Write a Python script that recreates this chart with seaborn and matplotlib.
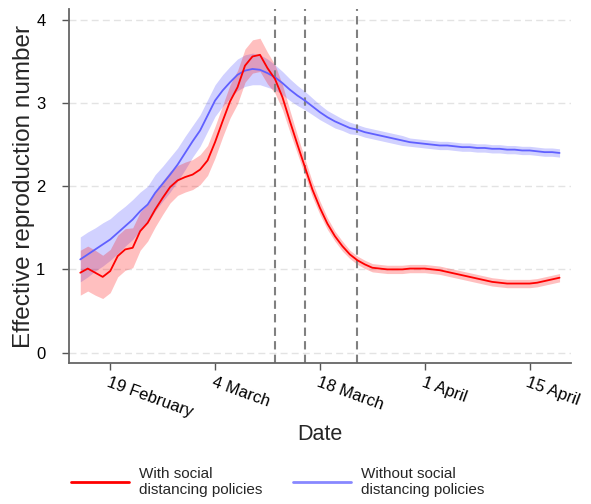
import numpy as np
import pandas as pd
import matplotlib
matplotlib.use("Agg")
import matplotlib.pyplot as plt
import matplotlib.dates as mdates
import seaborn as sns

# ---- data ----
start_date = "2020-02-15"
with_policy = [0.96, 1.01, 0.96, 0.91, 0.98, 1.16, 1.24, 1.26, 1.46, 1.56,
               1.72, 1.86, 1.99, 2.07, 2.11, 2.14, 2.20, 2.31, 2.53, 2.78,
               3.02, 3.19, 3.45, 3.56, 3.58, 3.42, 3.29, 3.07, 2.78, 2.50,
               2.23, 1.96, 1.74, 1.55, 1.40, 1.28, 1.18, 1.11, 1.06, 1.02,
               1.01, 1.00, 1.00, 1.00, 1.01, 1.01, 1.01, 1.00, 0.99, 0.97,
               0.95, 0.93, 0.91, 0.89, 0.87, 0.85, 0.84, 0.83, 0.83, 0.83,
               0.83, 0.84, 0.86, 0.88, 0.90]
with_halfwidth = [0.27, 0.27, 0.27, 0.26, 0.26, 0.25, 0.25, 0.24, 0.23, 0.22,
                  0.21, 0.20, 0.19, 0.18, 0.18, 0.18, 0.18, 0.18, 0.19, 0.19,
                  0.20, 0.20, 0.20, 0.20, 0.20, 0.19, 0.17, 0.15, 0.13, 0.11,
                  0.10, 0.09, 0.08, 0.07, 0.06, 0.06, 0.05, 0.05, 0.05, 0.05,
                  0.05, 0.05, 0.05, 0.05, 0.05, 0.05, 0.05, 0.05, 0.05, 0.05,
                  0.05, 0.05, 0.05, 0.05, 0.05, 0.05, 0.05, 0.05, 0.05, 0.05,
                  0.05, 0.05, 0.05, 0.05, 0.05]
without_policy = [1.12, 1.18, 1.24, 1.30, 1.36, 1.44, 1.52, 1.60, 1.70, 1.78,
                  1.92, 2.03, 2.14, 2.26, 2.40, 2.54, 2.67, 2.85, 3.03, 3.15,
                  3.25, 3.34, 3.39, 3.41, 3.40, 3.36, 3.31, 3.24, 3.16, 3.09,
                  3.03, 2.96, 2.89, 2.83, 2.78, 2.74, 2.70, 2.68, 2.65, 2.63,
                  2.61, 2.59, 2.57, 2.55, 2.53, 2.52, 2.51, 2.50, 2.49, 2.49,
                  2.48, 2.47, 2.47, 2.46, 2.46, 2.45, 2.45, 2.44, 2.44, 2.43,
                  2.43, 2.42, 2.41, 2.41, 2.40]
without_halfwidth = [0.27, 0.27, 0.26, 0.26, 0.25, 0.25, 0.24, 0.24, 0.23, 0.22,
                     0.22, 0.21, 0.21, 0.20, 0.20, 0.19, 0.19, 0.19, 0.19, 0.19,
                     0.19, 0.19, 0.19, 0.19, 0.18, 0.17, 0.15, 0.14, 0.13, 0.12,
                     0.11, 0.10, 0.09, 0.08, 0.08, 0.07, 0.07, 0.06, 0.06, 0.06,
                     0.06, 0.06, 0.06, 0.06, 0.05, 0.05, 0.05, 0.05, 0.05, 0.05,
                     0.05, 0.05, 0.05, 0.05, 0.05, 0.05, 0.05, 0.05, 0.05, 0.05,
                     0.05, 0.05, 0.05, 0.05, 0.05]
policy_dates = ["2020-03-12", "2020-03-16", "2020-03-23"]
tick_dates = ["2020-02-19", "2020-03-04", "2020-03-18", "2020-04-01", "2020-04-15"]
tick_labels = ["19 February", "4 March", "18 March", "1 April", "15 April"]
series_labels = ["With social\ndistancing policies", "Without social\ndistancing policies"]

dates = pd.date_range(start_date, periods=len(with_policy), freq="D")
df = pd.DataFrame({"date": dates, "with": with_policy, "without": without_policy,
                   "with_hw": with_halfwidth, "without_hw": without_halfwidth})

sns.set_theme(style="white")
plt.rcParams["font.family"] = ["Liberation Sans", "DejaVu Sans"]

fig = plt.figure(figsize=(5.91, 5.04), dpi=100)
ax = fig.add_axes([0.1168, 0.279, 0.849, 0.703])

red = "#ff0000"
blue = "#6060ff"

ax.fill_between(df["date"], df["without"] - df["without_hw"], df["without"] + df["without_hw"],
                color="#0000ff", alpha=0.18, linewidth=0)
ax.fill_between(df["date"], df["with"] - df["with_hw"], df["with"] + df["with_hw"],
                color="#ff0000", alpha=0.25, linewidth=0)
sns.lineplot(data=df, x="date", y="without", color=blue, linewidth=1.3, ax=ax,
             label=series_labels[1])
sns.lineplot(data=df, x="date", y="with", color=red, linewidth=1.3, ax=ax,
             label=series_labels[0])

for d in policy_dates:
    ax.axvline(pd.Timestamp(d), color="#808080", linestyle=(0, (4, 2.5)), linewidth=1.5, zorder=1)

ax.set_xlim(pd.Timestamp("2020-02-13 12:00"), pd.Timestamp("2020-04-20 12:00"))
ax.set_ylim(-0.13, 4.13)
ax.set_yticks([0, 1, 2, 3, 4])
ax.yaxis.grid(True, color="#e3e3e3", linestyle=(0, (5, 3)), linewidth=1)
ax.xaxis.grid(False)
ax.set_axisbelow(True)

ax.set_xticks([pd.Timestamp(t) for t in tick_dates])
ax.set_xticklabels(tick_labels, rotation=-20, ha="left", va="top", rotation_mode="anchor")
ax.tick_params(axis="both", direction="out", length=5, width=1, color="#555555",
               labelsize=12, labelcolor="black", bottom=True, left=True)
ax.tick_params(axis="x", pad=3)
ax.tick_params(axis="y", pad=12)

for s in ["top", "right"]:
    ax.spines[s].set_visible(False)
for s in ["left", "bottom"]:
    ax.spines[s].set_color("#666666")
    ax.spines[s].set_linewidth(1.3)

ax.set_xlabel("Date", fontsize=15.5, labelpad=3)
ax.set_ylabel("Effective reproduction number", fontsize=17.5, labelpad=1)

handles, labels = ax.get_legend_handles_labels()
ax.get_legend().remove()
order = [labels.index(series_labels[0]), labels.index(series_labels[1])]
leg = fig.legend([handles[i] for i in order], [labels[i] for i in order],
                 loc="center", bbox_to_anchor=(0.47, 0.044), ncol=2, frameon=False,
                 fontsize=11, handlelength=3.8, handletextpad=0.66, columnspacing=2.0)
for line in leg.get_lines():
    line.set_linewidth(2)
leg.get_lines()[1].set_color("#8888ff")

fig.savefig("out.png", dpi=100, facecolor="white")
